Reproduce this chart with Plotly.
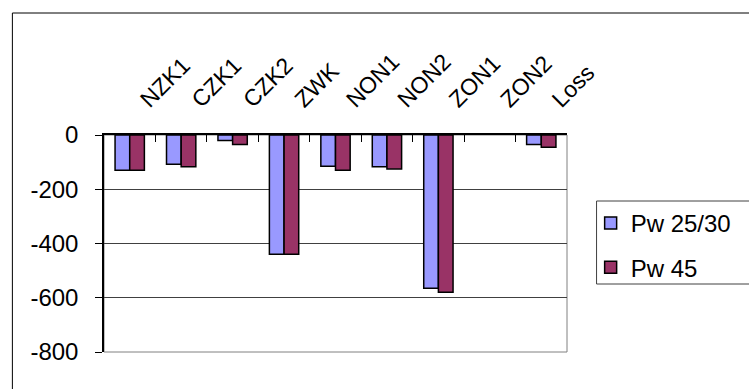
import plotly.graph_objects as go

# Categories and series values
categories = ["NZK1", "CZK1", "CZK2", "ZWK", "NON1", "NON2", "ZON1", "ZON2", "Loss"]
pw_25_30 = [-130, -108, -20, -440, -115, -117, -565, None, -35]
pw_45 = [-130, -117, -35, -440, -130, -125, -580, None, -45]

y_tick_values = [0, -200, -400, -600, -800]
y_tick_labels = ["0", "-200", "-400", "-600", "-800"]

FONT = "Liberation Sans, Arial, sans-serif"

# Plot area in pixels (figure is 749 x 389)
W, H = 749, 389
L, R_EDGE, T, B_EDGE = 104, 574, 135, 352
pw = R_EDGE - L
ph = B_EDGE - T


def px_x(x):
    return (x - L) / pw


def px_y(y):
    return (B_EDGE - y) / ph


fig = go.Figure()
fig.add_trace(go.Bar(
    name="Pw 25/30", x=categories, y=pw_25_30,
    marker=dict(color="#9999FF", line=dict(color="#000000", width=1.5)),
    legendgroup="a",
))
fig.add_trace(go.Bar(
    name="Pw 45", x=categories, y=pw_45,
    marker=dict(color="#993366", line=dict(color="#000000", width=1.5)),
    legendgroup="b",
))

# Outer chart frame, plot-area border and legend box
fig.add_shape(type="rect", xref="paper", yref="paper",
              x0=px_x(11), x1=px_x(760), y0=px_y(400), y1=px_y(13),
              line=dict(color="#000000", width=1), layer="below")
fig.add_shape(type="rect", xref="paper", yref="paper",
              x0=0, x1=1, y0=0, y1=1,
              line=dict(color="#808080", width=1), layer="below")
fig.add_shape(type="rect", xref="paper", yref="paper",
              x0=px_x(604), x1=px_x(760), y0=px_y(284), y1=px_y(201),
              line=dict(color="#404040", width=1), layer="below")

fig.update_layout(
    width=W, height=H,
    margin=dict(l=L, r=W - R_EDGE, t=T, b=H - B_EDGE, pad=0),
    paper_bgcolor="white", plot_bgcolor="white",
    barmode="group", bargap=0.43, bargroupgap=0,
    font=dict(family=FONT, size=24, color="#000000"),
    showlegend=True,
    legend=dict(
        x=px_x(598), y=px_y(201), xanchor="left", yanchor="top",
        borderwidth=0, bgcolor="rgba(0,0,0,0)",
        font=dict(family=FONT, size=24, color="#000000"),
        tracegroupgap=10, itemwidth=30,
    ),
    xaxis=dict(
        type="category", side="top", tickangle=-45,
        showline=True, linecolor="#000000", linewidth=1.5,
        ticks="inside", ticklen=7, tickcolor="#000000", tickwidth=1,
        tickson="boundaries", showgrid=False, zeroline=False,
        ticklabelstandoff=12, ticklabelshift=12,
        tickfont=dict(family=FONT, size=23, color="#000000"),
    ),
    yaxis=dict(
        range=[-800, 0], tickvals=y_tick_values, ticktext=y_tick_labels,
        showline=True, linecolor="#000000", linewidth=1.5,
        ticks="outside", ticklen=7, tickcolor="#000000", tickwidth=1,
        showgrid=True, gridcolor="#404040", gridwidth=1, zeroline=False,
        ticklabelstandoff=12,
        tickfont=dict(family=FONT, size=24, color="#000000"),
    ),
)

fig.write_html("out.html")
